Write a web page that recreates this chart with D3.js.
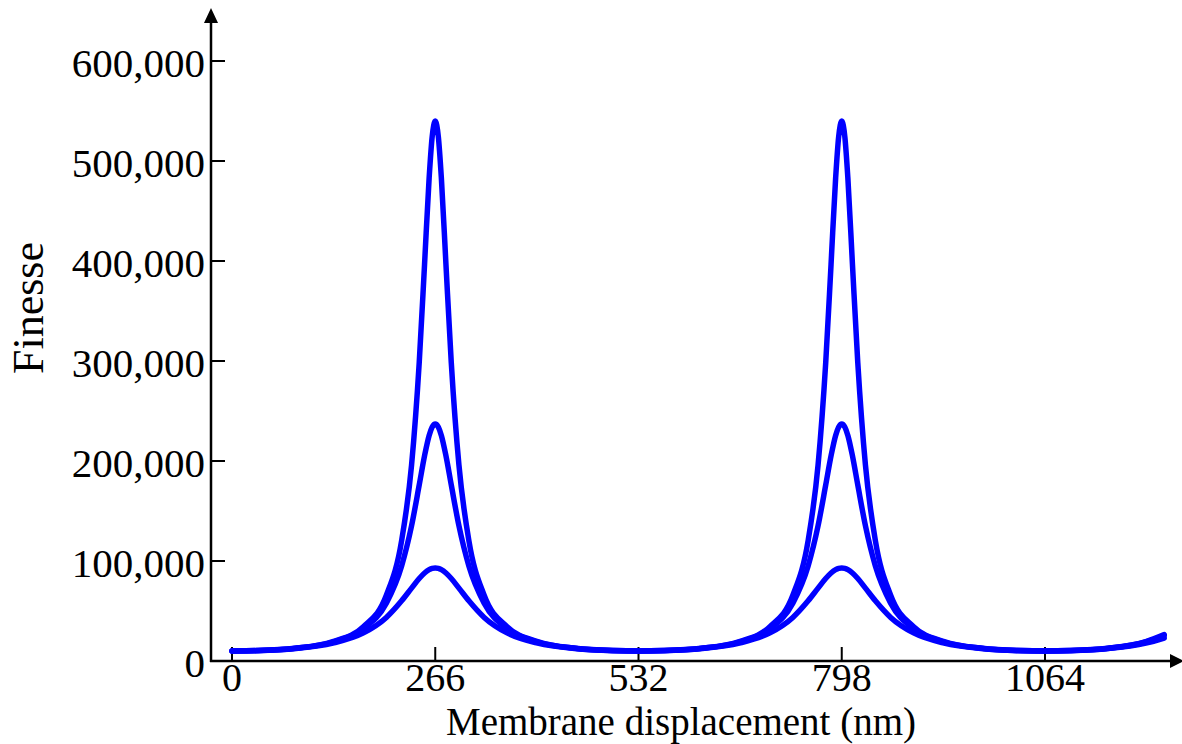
<!DOCTYPE html>
<html>
<head>
<meta charset="utf-8">
<script src="https://cdn.jsdelivr.net/npm/d3@7.9.0/dist/d3.min.js"></script>
<style>
  body { margin: 0; background: #fff; }
  svg text { font-family: "Liberation Serif", "Times New Roman", serif; fill: #000; }
</style>
</head>
<body>
<div id="chart"></div>
<script>
// membrane displacement (nm) sample positions
const displacement = [0, 32, 82, 132, 172, 202, 222, 235, 245, 252, 258, 262, 266, 270, 274, 280, 287, 297, 310, 330, 360, 400, 450, 500, 532,
  564, 614, 664, 704, 734, 754, 767, 777, 784, 790, 794, 798, 802, 806, 812, 819, 829, 842, 862, 892, 932, 982, 1032, 1064,
  1096, 1146, 1196, 1220];

// finesse, three curves (high, mid, low peak)
const finesseHigh = [10000, 10400, 12700, 19400, 34400, 65700, 120400, 195900, 298200, 396700, 483000, 524500, 540000, 524500, 483000, 396700, 298200, 195900, 120400, 65700, 34400, 19400, 12700, 10400, 10000,
  10400, 12700, 19400, 34400, 65700, 120400, 195900, 298200, 396700, 483000, 524500, 540000, 524500, 483000, 396700, 298200, 195900, 120400, 65700, 34400, 19400, 12700, 10400, 10000,
  10400, 12700, 19400, 26500];
const finesseMid = [10000, 10400, 12600, 19000, 32400, 57900, 95100, 135200, 175900, 205200, 225600, 234000, 237000, 234000, 225600, 205200, 175900, 135200, 95100, 57900, 32400, 19000, 12600, 10400, 10000,
  10400, 12600, 19000, 32400, 57900, 95100, 135200, 175900, 205200, 225600, 234000, 237000, 234000, 225600, 205200, 175900, 135200, 95100, 57900, 32400, 19000, 12600, 10400, 10000,
  10400, 12600, 19000, 25500];
const finesseLow = [10000, 10300, 12400, 17900, 28100, 43600, 60200, 72900, 82500, 88000, 91300, 92600, 93000, 92600, 91300, 88000, 82500, 72900, 60200, 43600, 28100, 17900, 12400, 10300, 10000,
  10300, 12400, 17900, 28100, 43600, 60200, 72900, 82500, 88000, 91300, 92600, 93000, 92600, 91300, 88000, 82500, 72900, 60200, 43600, 28100, 17900, 12400, 10300, 10000,
  10300, 12400, 17900, 23000];

const xTicks = [0, 266, 532, 798, 1064];
const yTicks = [0, 100000, 200000, 300000, 400000, 500000, 600000];

const W = 1182, H = 744;
const axisX = 211, axisY = 661;

const svg = d3.select("#chart").append("svg")
  .attr("width", W)
  .attr("height", H);

const x = d3.scaleLinear().domain([0, 1064]).range([232, 1045]);
const y = d3.scaleLinear().domain([0, 600000]).range([axisY, 61]);

// axes lines with arrow heads
svg.append("line")
  .attr("x1", axisX).attr("y1", axisY + 1)
  .attr("x2", axisX).attr("y2", 20)
  .attr("stroke", "#000").attr("stroke-width", 2.5);
svg.append("path")
  .attr("d", `M${axisX - 7},23 L${axisX},8 L${axisX + 7},23 Z`)
  .attr("fill", "#000");

svg.append("line")
  .attr("x1", axisX - 1).attr("y1", axisY)
  .attr("x2", 1172).attr("y2", axisY)
  .attr("stroke", "#000").attr("stroke-width", 2.5);
svg.append("path")
  .attr("d", `M1170,${axisY - 7} L1184,${axisY} L1170,${axisY + 7} Z`)
  .attr("fill", "#000");

// y ticks (pointing inward)
const fmt = d3.format(",");
yTicks.forEach(t => {
  if (t > 0) {
    svg.append("line")
      .attr("x1", axisX).attr("x2", axisX + 14)
      .attr("y1", y(t)).attr("y2", y(t))
      .attr("stroke", "#000").attr("stroke-width", 2);
  }
  svg.append("text")
    .attr("x", 205)
    .attr("y", y(t) + 16)
    .attr("text-anchor", "end")
    .style("font-size", "41px")
    .text(fmt(t));
});

// x ticks (pointing up)
xTicks.forEach(t => {
  svg.append("line")
    .attr("x1", x(t)).attr("x2", x(t))
    .attr("y1", axisY).attr("y2", axisY - 14)
    .attr("stroke", "#000").attr("stroke-width", 2);
  svg.append("text")
    .attr("x", x(t))
    .attr("y", 691)
    .attr("text-anchor", "middle")
    .style("font-size", "40px")
    .text(t);
});

// axis titles
svg.append("text")
  .attr("x", 681)
  .attr("y", 735)
  .attr("text-anchor", "middle")
  .style("font-size", "39px")
  .text("Membrane displacement (nm)");

svg.append("text")
  .attr("transform", "translate(43,308) rotate(-90)")
  .attr("text-anchor", "middle")
  .style("font-size", "44px")
  .text("Finesse");

// curves
const line = d3.line()
  .x(d => x(d[0]))
  .y(d => y(d[1]))
  .curve(d3.curveMonotoneX);

[finesseLow, finesseMid, finesseHigh].forEach(series => {
  svg.append("path")
    .datum(displacement.map((d, i) => [d, series[i]]))
    .attr("fill", "none")
    .attr("stroke", "#0000ff")
    .attr("stroke-width", 5.5)
    .attr("stroke-linecap", "round")
    .attr("stroke-linejoin", "round")
    .attr("d", line);
});
</script>
</body>
</html>
